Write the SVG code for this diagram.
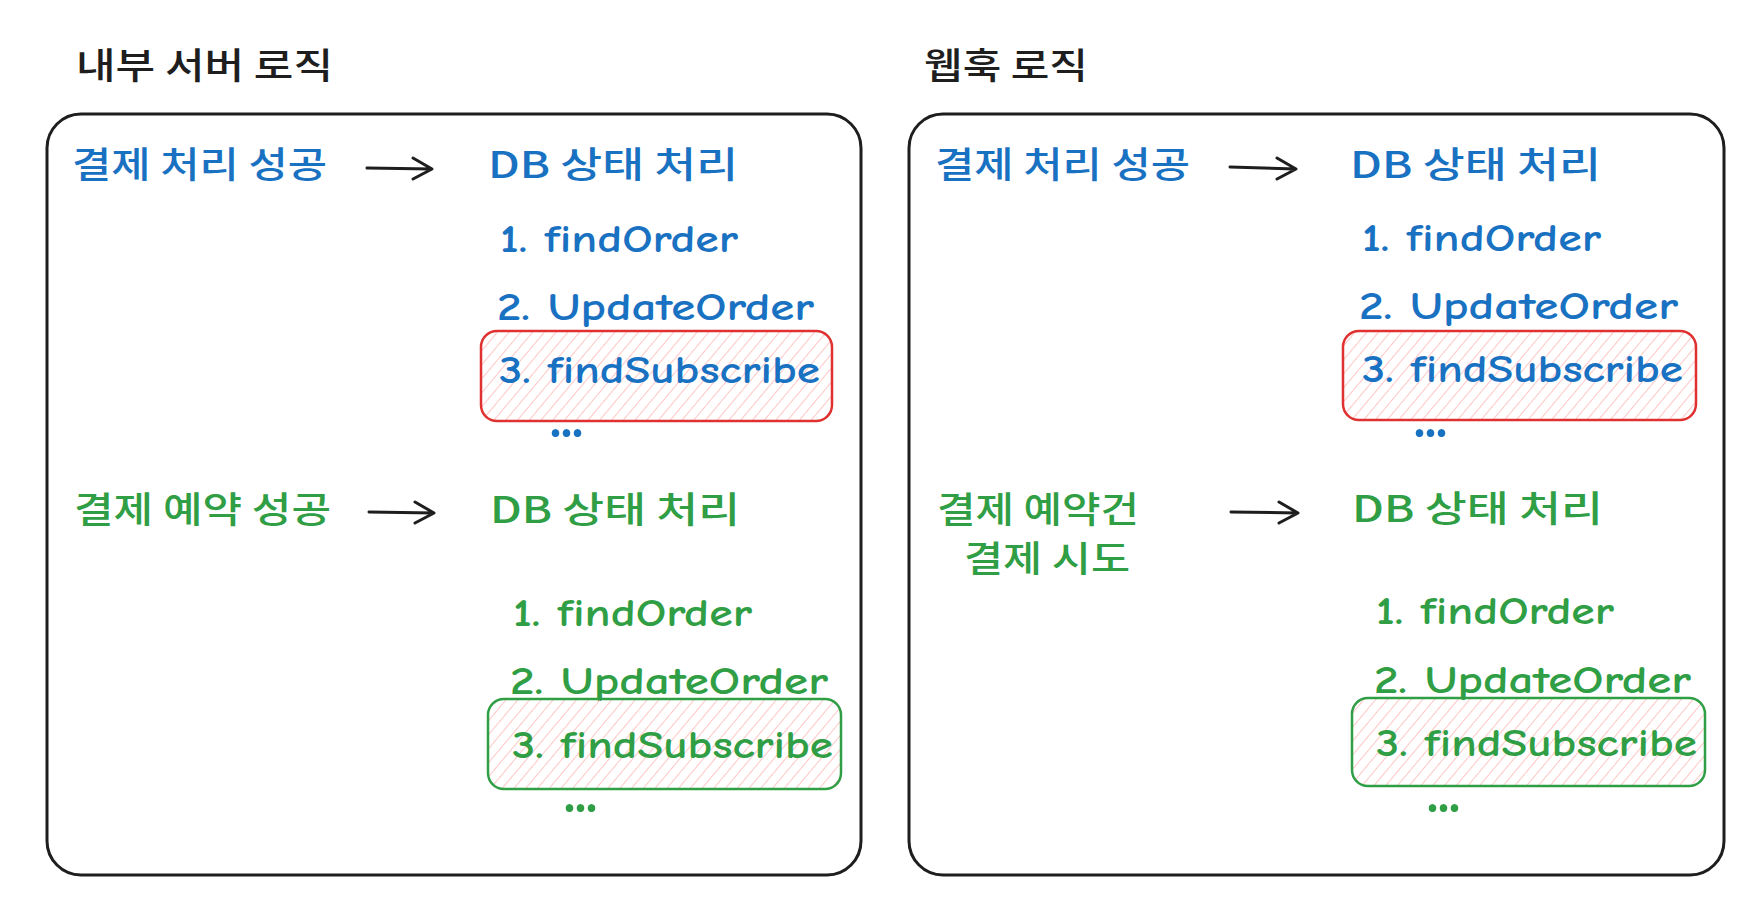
<svg xmlns="http://www.w3.org/2000/svg" width="1754" height="898" viewBox="0 0 1754 898">
<style>
.title{font-family:"Noto Sans CJK KR","Noto Sans",sans-serif;font-size:36px;fill:#1e1e1e;font-weight:500}
.ko{font-family:"Noto Sans CJK KR","Noto Sans",sans-serif;font-size:36px;font-weight:500}
.la{font-family:"Comic Neue","Lato","Noto Sans","Noto Sans CJK KR",sans-serif;font-size:38px;font-weight:700}
.dots{font-family:"Lato","Noto Sans",sans-serif;font-size:50px;font-weight:900}
.blue{fill:#1971c2}
.green{fill:#2f9e44}
.frame{fill:#fff;stroke:#1e1e1e;stroke-width:3}
.arrow{fill:none;stroke:#1e1e1e;stroke-width:3;stroke-linecap:round;stroke-linejoin:round}
.hlr{fill:url(#hatch);stroke:#e03131;stroke-width:2.5}
.hlg{fill:url(#hatch);stroke:#2f9e44;stroke-width:2.5}
</style>
<defs>
<pattern id="hatch" patternUnits="userSpaceOnUse" width="9" height="9" patternTransform="rotate(40)">
<line x1="0" y1="0" x2="0" y2="9" stroke="#ffb8b8" stroke-width="1.6"/>
</pattern>
</defs>
<rect width="1754" height="898" fill="#fff"/>

<g id="title-left"><text class="title" x="76" y="79" textLength="257" lengthAdjust="spacingAndGlyphs">내부 서버 로직</text></g>
<g id="title-right"><text class="title" x="924" y="79" textLength="164" lengthAdjust="spacingAndGlyphs">웹훅 로직</text></g>

<g id="frame-left"><rect class="frame" x="47" y="114" width="814" height="761" rx="34"/></g>
<g id="frame-right"><rect class="frame" x="909" y="114" width="815" height="761" rx="34"/></g>

<g id="left-pay-success">
<text class="ko blue" x="72" y="178" textLength="255" lengthAdjust="spacingAndGlyphs">결제 처리 성공</text>
</g>
<g id="left-db-blue">
<text class="ko blue" x="488" y="178" textLength="250" lengthAdjust="spacingAndGlyphs">DB 상태 처리</text>
<text class="la blue" x="500" y="252" textLength="238" lengthAdjust="spacingAndGlyphs">1. findOrder</text>
<text class="la blue" x="497" y="320" textLength="317" lengthAdjust="spacingAndGlyphs">2. UpdateOrder</text>
</g>
<g id="left-hl-red">
<rect class="hlr" x="481" y="331" width="351" height="90" rx="16"/>
<text class="la blue" x="499" y="383" textLength="321" lengthAdjust="spacingAndGlyphs">3. findSubscribe</text>
<text class="dots blue" x="550" y="437" textLength="33" lengthAdjust="spacingAndGlyphs">...</text>
</g>

<g id="left-reserve-success">
<text class="ko green" x="74" y="523" textLength="257" lengthAdjust="spacingAndGlyphs">결제 예약 성공</text>
</g>
<g id="left-db-green">
<text class="ko green" x="490" y="523" textLength="250" lengthAdjust="spacingAndGlyphs">DB 상태 처리</text>
<text class="la green" x="513" y="626" textLength="239" lengthAdjust="spacingAndGlyphs">1. findOrder</text>
<text class="la green" x="510" y="694" textLength="318" lengthAdjust="spacingAndGlyphs">2. UpdateOrder</text>
</g>
<g id="left-hl-green">
<rect class="hlg" x="488" y="699" width="353" height="90" rx="16"/>
<text class="la green" x="512" y="758" textLength="321" lengthAdjust="spacingAndGlyphs">3. findSubscribe</text>
<text class="dots green" x="564" y="812" textLength="33" lengthAdjust="spacingAndGlyphs">...</text>
</g>

<g id="right-pay-success">
<text class="ko blue" x="935" y="178" textLength="255" lengthAdjust="spacingAndGlyphs">결제 처리 성공</text>
</g>
<g id="right-db-blue">
<text class="ko blue" x="1350" y="178" textLength="251" lengthAdjust="spacingAndGlyphs">DB 상태 처리</text>
<text class="la blue" x="1362" y="251" textLength="239" lengthAdjust="spacingAndGlyphs">1. findOrder</text>
<text class="la blue" x="1359" y="319" textLength="319" lengthAdjust="spacingAndGlyphs">2. UpdateOrder</text>
</g>
<g id="right-hl-red">
<rect class="hlr" x="1343" y="331" width="353" height="89" rx="16"/>
<text class="la blue" x="1362" y="382" textLength="321" lengthAdjust="spacingAndGlyphs">3. findSubscribe</text>
<text class="dots blue" x="1414" y="437" textLength="33" lengthAdjust="spacingAndGlyphs">...</text>
</g>

<g id="right-reserve-try">
<text class="ko green" x="937" y="523" textLength="202" lengthAdjust="spacingAndGlyphs">결제 예약건</text>
<text class="ko green" x="964" y="572" textLength="166" lengthAdjust="spacingAndGlyphs">결제 시도</text>
</g>
<g id="right-db-green">
<text class="ko green" x="1352" y="522" textLength="251" lengthAdjust="spacingAndGlyphs">DB 상태 처리</text>
<text class="la green" x="1376" y="624" textLength="238" lengthAdjust="spacingAndGlyphs">1. findOrder</text>
<text class="la green" x="1374" y="693" textLength="317" lengthAdjust="spacingAndGlyphs">2. UpdateOrder</text>
</g>
<g id="right-hl-green">
<rect class="hlg" x="1352" y="698" width="353" height="88" rx="16"/>
<text class="la green" x="1376" y="756" textLength="321" lengthAdjust="spacingAndGlyphs">3. findSubscribe</text>
<text class="dots green" x="1427" y="812" textLength="33" lengthAdjust="spacingAndGlyphs">...</text>
</g>

<g id="connectors">
<path class="arrow" d="M367 168 L432 169 M413 158 L432 169 L413 179"/>
<path class="arrow" d="M369 512 L434 513 M415 502 L434 513 L415 523"/>
<path class="arrow" d="M1230 167 L1296 169 M1277 158 L1296 169 L1277 179"/>
<path class="arrow" d="M1231 512 L1298 513 M1279 502 L1298 513 L1279 523"/>
</g>
</svg>
